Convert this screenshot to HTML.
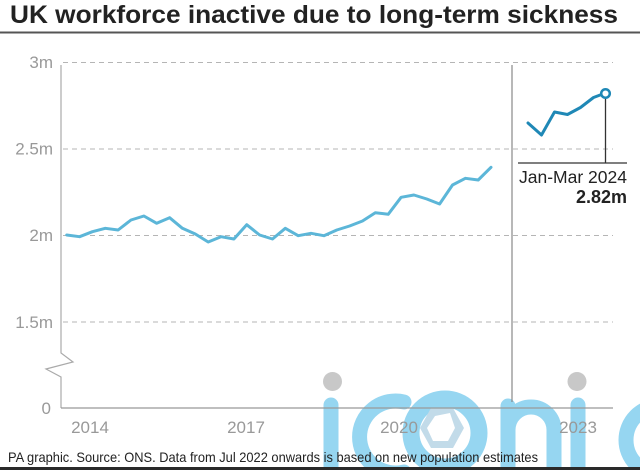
<!DOCTYPE html>
<html><head><meta charset="utf-8"><style>
html,body{margin:0;padding:0;background:#fff;}
svg{display:block;font-family:"Liberation Sans",Arial,sans-serif;}
</style></head><body>
<svg width="640" height="470" viewBox="0 0 640 470" xmlns="http://www.w3.org/2000/svg">
<rect width="640" height="470" fill="#fff"/>

<!-- watermark (behind) -->
<g>
<g fill="none" stroke="#96d6f1" stroke-width="15" stroke-linecap="round">
<line x1="331" y1="405" x2="331" y2="480"/>
<path d="M 404 402 A 36 36 0 1 0 404 472"/>
<circle cx="445" cy="433" r="34" stroke-width="17"/>
<path d="M 508 406 L 508 480 M 508 430 A 23 23 0 0 1 554 430 L 554 480"/>
<line x1="578" y1="405" x2="578" y2="480"/>
<path d="M 660 406 A 33 33 0 1 0 660 474"/>
</g>
<polygon points="431,408 453,408 464,428 453,448 431,448 420,428" fill="#c2dbe9"/>
<polygon points="435,416 450,413 455,428 448,441 433,441 427,428" fill="#fff"/>
</g>
<circle cx="332.5" cy="381.5" r="9.5" fill="#c8c8c8"/>
<circle cx="577" cy="381.5" r="9.5" fill="#c8c8c8"/>

<text x="10" y="23" font-size="25" font-weight="bold" fill="#222" textLength="608" lengthAdjust="spacingAndGlyphs">UK workforce inactive due to long-term sickness</text>
<rect x="0" y="31.5" width="640" height="2" fill="#555"/>

<g stroke="#b5b5b5" stroke-width="1" stroke-dasharray="5,4">
<line x1="63" y1="62.5" x2="613" y2="62.5"/>
<line x1="63" y1="149" x2="613" y2="149"/>
<line x1="63" y1="235.5" x2="613" y2="235.5"/>
<line x1="63" y1="322" x2="613" y2="322"/>
</g>

<g font-size="17" fill="#999" text-anchor="end">
<text x="53" y="68">3m</text>
<text x="53" y="154.5">2.5m</text>
<text x="53" y="241">2m</text>
<text x="53" y="328">1.5m</text>
<text x="51" y="414">0</text>
</g>

<polyline points="61,65 61,353 73,362 46,369 61,377 61,408" fill="none" stroke="#aaa" stroke-width="1.2"/>
<line x1="61" y1="408" x2="613" y2="408" stroke="#999" stroke-width="1.2"/>
<line x1="512" y1="65" x2="512" y2="402" stroke="#888" stroke-width="1.2"/>

<g font-size="17" fill="#999" text-anchor="middle">
<text x="90" y="433">2014</text>
<text x="246" y="433">2017</text>
<text x="399" y="433">2020</text>
<text x="578" y="433">2023</text>
</g>

<polyline fill="none" stroke="#5cb6d8" stroke-width="3" stroke-linejoin="round" stroke-linecap="round" points="
66.7,235 79.6,236.7 92.4,231.7 105.3,228.3 118.1,230 131,220 143.9,216 156.7,223.3 169.6,217.7 182.4,228.3 195.3,234 208.2,242 221,236.7 233.9,239 246.7,224.7 259.6,235 272.5,239 285.3,228.3 298.2,235.7 311,233.3 323.9,235.7 336.8,230 349.6,226 362.5,221 375.3,212.7 388.2,214.3 401.1,197.3 413.9,195 426.8,199 439.6,204 452.5,185 465.4,178.3 478.2,180 491,167.3"/>

<polyline fill="none" stroke="#1f88b6" stroke-width="3" stroke-linejoin="round" stroke-linecap="round" points="528,123 541.5,135 554.5,112 567.5,114.5 580.5,107.5 593.5,97.5 601.5,94.5"/>
<line x1="605.5" y1="98" x2="605.5" y2="163" stroke="#333" stroke-width="1.3"/>
<line x1="518" y1="163" x2="627" y2="163" stroke="#333" stroke-width="1.3"/>
<circle cx="605.5" cy="93.5" r="4.3" fill="#fff" stroke="#1f88b6" stroke-width="2.5"/>
<text x="627" y="183" font-size="17.5" fill="#222" text-anchor="end">Jan-Mar 2024</text>
<text x="627" y="203" font-size="18" font-weight="bold" fill="#222" text-anchor="end">2.82m</text>

<text x="8" y="462" font-size="14" fill="#222" textLength="530" lengthAdjust="spacingAndGlyphs">PA graphic. Source: ONS. Data from Jul 2022 onwards is based on new population estimates</text>

<rect x="0" y="467" width="640" height="3" fill="#2a2a2a"/>
</svg>
</body></html>
